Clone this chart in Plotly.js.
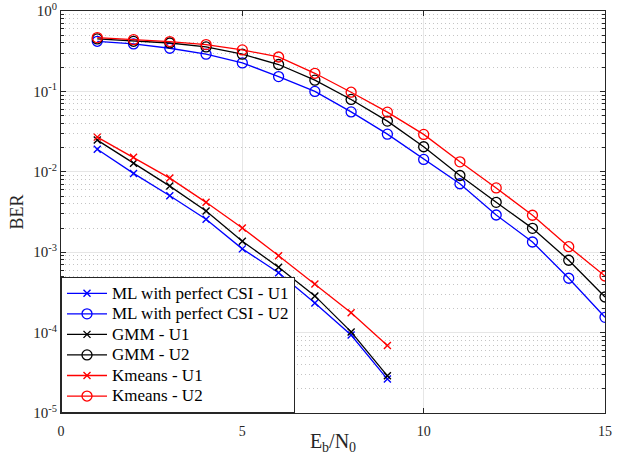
<!DOCTYPE html>
<html>
<head>
<meta charset="utf-8">
<script src="https://cdn.plot.ly/plotly-3.0.1.min.js"></script>
<style>html,body{margin:0;padding:0;background:#fff;}#chart{width:624px;height:455px;}</style>
</head>
<body>
<div id="chart"></div>
<script>
const ebn0U1 = [1,2,3,4,5,6,7,8,9];
const ebn0U2 = [1,2,3,4,5,6,7,8,9,10,11,12,13,14,15];

const mlU1 = [0.0191,0.00955,0.00504,0.00257,0.0011,0.000556,0.000234,0.0000933,0.0000264];
const mlU2 = [0.42,0.389,0.344,0.29,0.226,0.153,0.1,0.0556,0.0294,0.01426,0.0071,0.0029,0.00134,0.000474,0.000155];
const gmmU1 = [0.0248,0.0128,0.00664,0.00325,0.00137,0.00065,0.000286,0.000102,0.000029];
const gmmU2 = [0.45,0.42,0.40,0.357,0.29,0.216,0.138,0.0794,0.0427,0.0205,0.0090,0.00417,0.00198,0.000794,0.000277];
const kmU1 = [0.027,0.0152,0.00835,0.00417,0.002,0.000906,0.000403,0.000177,0.000069];
const kmU2 = [0.467,0.44,0.417,0.382,0.328,0.268,0.168,0.0977,0.0552,0.0292,0.0133,0.0063,0.00288,0.00117,0.000506];

const names = ['ML with perfect CSI - U1','ML with perfect CSI - U2','GMM - U1','GMM - U2','Kmeans - U1','Kmeans - U2'];
const yTickVals = [1e-5,1e-4,1e-3,1e-2,1e-1,1];
const yTickText = ['10<sup>-5</sup>','10<sup>-4</sup>','10<sup>-3</sup>','10<sup>-2</sup>','10<sup>-1</sup>','10<sup>0</sup>'];
const xTickVals = [0,5,10,15];

const blue = '#0000ff', black = '#000000', red = '#ff0000';
function tr(x, y, name, color, isCross) {
  return {
    x: x, y: y, name: '<span style="font-size:17px">' + name + '</span>', type: 'scatter', mode: 'lines+markers',
    line: {color: color, width: 1.3},
    marker: isCross
      ? {symbol: 'x-thin-open', size: 7, color: color, line: {color: color, width: 1.4}}
      : {symbol: 'circle-open', size: 10, color: color, line: {color: color, width: 1.3}}
  };
}
const data = [
  tr(ebn0U1, mlU1, names[0], blue, true),
  tr(ebn0U2, mlU2, names[1], blue, false),
  tr(ebn0U1, gmmU1, names[2], black, true),
  tr(ebn0U2, gmmU2, names[3], black, false),
  tr(ebn0U1, kmU1, names[4], red, true),
  tr(ebn0U2, kmU2, names[5], red, false)
];
const FAM = 'Liberation Serif';
const font = {family: FAM, color: '#262626'};
const layout = {
  width: 624, height: 455,
  margin: {l: 61, r: 19, t: 11, b: 42},
  paper_bgcolor: '#fff', plot_bgcolor: '#fff',
  font: Object.assign({size: 13}, font),
  showlegend: true,
  legend: {
    x: 0, y: 0, xanchor: 'left', yanchor: 'bottom',
    bgcolor: '#fff', bordercolor: '#262626', borderwidth: 1,
    font: {family: FAM, color: '#000', size: 13.5},
    tracegroupgap: 0, itemwidth: 40
  },
  xaxis: {
    range: [0, 15], tickvals: xTickVals, ticktext: xTickVals.map(String),
    ticks: 'inside', ticklen: 5, tickcolor: '#262626',
    showline: true, linecolor: '#262626', linewidth: 1, mirror: 'allticks',
    showgrid: true, gridcolor: '#e6e6e6', gridwidth: 1, zeroline: false,
    tickfont: Object.assign({size: 14}, font), ticklabelstandoff: 5,
    title: {text: 'E<sub>b</sub>/N<sub>0</sub>', font: Object.assign({size: 20}, font), standoff: 2}
  },
  yaxis: {
    type: 'log', range: [-5, 0], tickvals: yTickVals, ticktext: yTickText,
    ticks: 'inside', ticklen: 5, tickcolor: '#262626',
    showline: true, linecolor: '#262626', linewidth: 1, mirror: 'allticks',
    showgrid: true, gridcolor: '#e6e6e6', gridwidth: 1, zeroline: false,
    tickfont: Object.assign({size: 15}, font),
    minor: {dtick: 'D1', ticks: 'inside', ticklen: 3, tickcolor: '#262626', showgrid: true, gridcolor: '#c4c4c4', griddash: '1px,3px', gridwidth: 1},
    title: {text: 'BER', font: Object.assign({size: 18}, font), standoff: 4}
  }
};
Plotly.newPlot('chart', data, layout, {displayModeBar: false, staticPlot: true});
</script>
</body>
</html>
